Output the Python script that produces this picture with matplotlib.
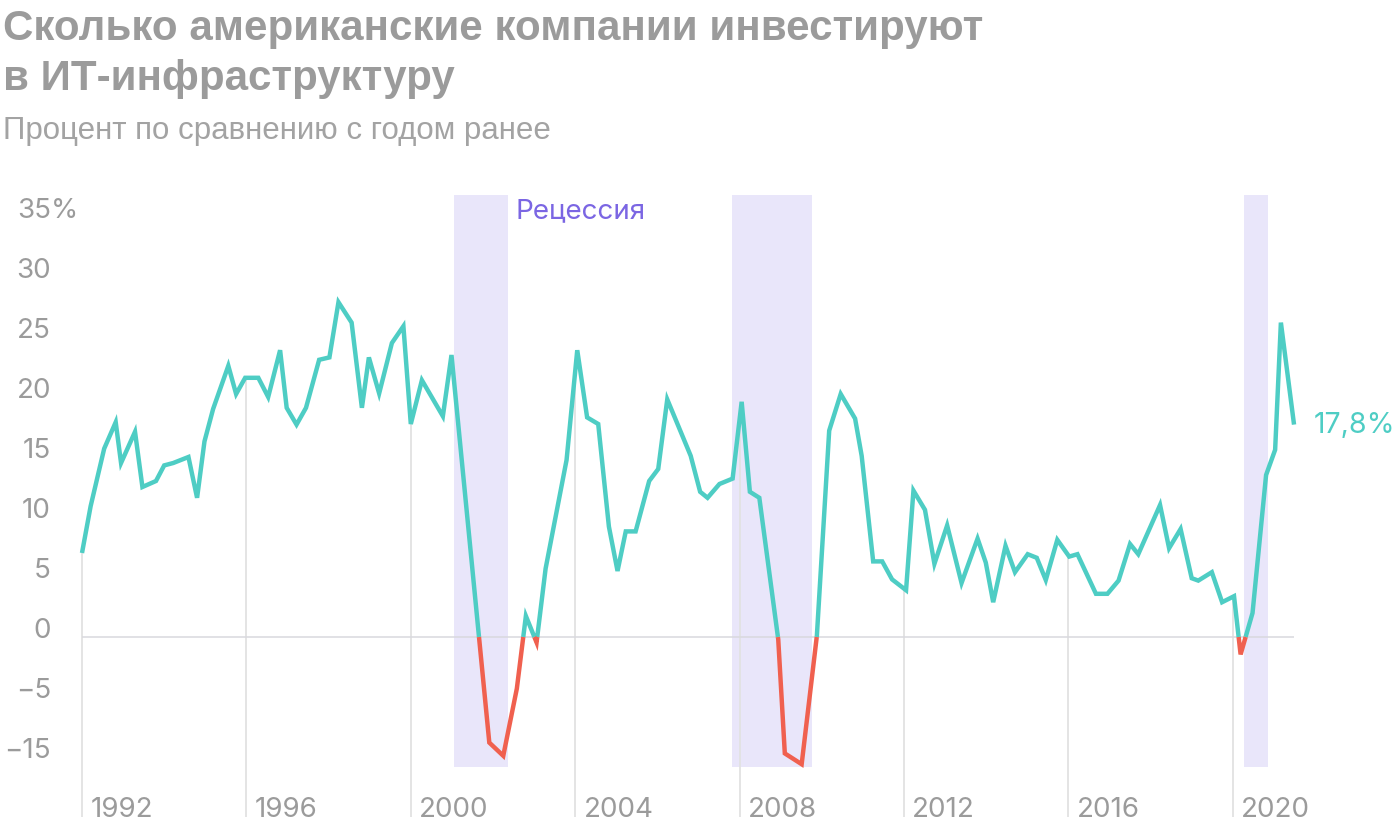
import numpy as np
import matplotlib
matplotlib.use("Agg")
import matplotlib.pyplot as plt
from matplotlib import font_manager

# ---------------- data ----------------
years = [1992.00, 1992.21, 1992.54, 1992.82, 1992.95, 1993.29, 1993.47, 1993.80,
         1994.00, 1994.22, 1994.59, 1994.80, 1994.98, 1995.19, 1995.56, 1995.75,
         1995.97, 1996.29, 1996.53, 1996.82, 1996.98, 1997.22, 1997.45, 1997.77,
         1998.02, 1998.24, 1998.56, 1998.81, 1998.98, 1999.23, 1999.54, 1999.82,
         2000.00, 2000.27, 2000.78, 2000.99, 2001.91, 2002.25, 2002.58, 2002.80,
         2003.06, 2003.28, 2003.79, 2004.05, 2004.29, 2004.56, 2004.82, 2005.03,
         2005.23, 2005.47, 2005.80, 2006.02, 2006.24, 2006.81, 2007.04, 2007.22,
         2007.51, 2007.83, 2008.05, 2008.25, 2008.48, 2008.94, 2009.10, 2009.51,
         2009.88, 2010.18, 2010.46, 2010.81, 2010.97, 2011.25, 2011.47, 2011.71,
         2012.05, 2012.23, 2012.51, 2012.74, 2013.05, 2013.40, 2013.79, 2013.99,
         2014.17, 2014.47, 2014.70, 2015.01, 2015.23, 2015.45, 2015.73, 2016.02,
         2016.22, 2016.67, 2016.95, 2017.22, 2017.50, 2017.70, 2018.23, 2018.45,
         2018.73, 2019.00, 2019.16, 2019.49, 2019.74, 2020.03, 2020.19, 2020.48,
         2020.81, 2021.03, 2021.17, 2021.49]
values = [7.0, 10.9, 15.7, 17.9, 14.5, 17.1, 12.5, 13.0,
          14.3, 14.5, 15.0, 11.6, 16.3, 19.0, 22.6, 20.25,
          21.6, 21.6, 20.0, 23.9, 19.1, 17.7, 19.1, 23.1,
          23.3, 27.9, 26.2, 19.1, 23.3, 20.3, 24.5, 25.9,
          17.75, 21.4, 18.4, 23.5, -8.8, -9.9, -4.3, 1.75,
          -0.45, 5.7, 14.75, 23.9, 18.3, 17.75, 9.2, 5.5,
          8.8, 8.8, 13.0, 14.0, 19.8, 15.1, 12.1, 11.6,
          12.75, 13.2, 19.6, 12.1, 11.6, -0.2, -9.7, -10.6,
          0.1, 17.2, 20.25, 18.2, 15.1, 6.3, 6.3, 4.8,
          3.9, 12.2, 10.6, 6.1, 9.3, 4.5, 8.2, 6.2,
          2.9, 7.6, 5.4, 6.9, 6.6, 4.75, 8.1, 6.7,
          6.9, 3.6, 3.6, 4.7, 7.75, 6.9, 11.0, 7.4,
          9.0, 4.9, 4.7, 5.4, 2.9, 3.4, -1.45, 2.0,
          13.5, 15.6, 26.2, 17.7]

recession_start = [2001.05, 2007.82, 2020.27]
recession_end = [2002.37, 2009.76, 2020.85]

ytick_values = [35, 30, 25, 20, 15, 10, 5, 0, -5, -10]
ytick_labels = ["35%", "30", "25", "20", "15", "10", "5", "0", "\u22125", "\u221215"]
xtick_years = [1992, 1996, 2000, 2004, 2008, 2012, 2016, 2020]
xtick_labels = ["1992", "1996", "2000", "2004", "2008", "2012", "2016", "2020"]

title_lines = ["Сколько американские компании инвестируют", "в ИТ-инфраструктуру"]
subtitle = "Процент по сравнению с годом ранее"
recession_label = "Рецессия"
last_label = "17,8%"

# ---------------- style ----------------
TEAL = "#4ecdc4"
RED = "#f0604f"
BAND = "#e9e6fa"
GRID = "#e2e2e2"
GRAY_TXT = "#9b9b9b"
PURPLE = "#7b66e3"

available = {f.name for f in font_manager.fontManager.ttflist}
head_font = "Liberation Sans" if "Liberation Sans" in available else "DejaVu Sans"
num_font = "Inter" if "Inter" in available else "DejaVu Sans"

W, H = 1400, 828
fig = plt.figure(figsize=(W / 100, H / 100), dpi=100)
ax = fig.add_axes([0, 0, 1, 1])
ax.set_axis_off()

# map: pixel x = 82 + (year-1992)*41.1 ; pixel y = 638 - 12*value
px_per_year = 41.1
px_per_unit = 12.0
ax.set_xlim(1992 - 82 / px_per_year, 1992 + (W - 82) / px_per_year)
ax.set_ylim(638 / px_per_unit - H / px_per_unit, 638 / px_per_unit)

x = np.array(years)
y = np.array(values)

band_bottom = (638 - 768) / px_per_unit
band_top = (638 - 196) / px_per_unit
for s, e in zip(recession_start, recession_end):
    ax.fill_between([s, e], band_bottom, band_top, color=BAND, lw=0, zorder=1)

grid_bottom = (638 - 818) / px_per_unit
ax.vlines(xtick_years, grid_bottom, np.interp(xtick_years, x, y), color=GRID, lw=1.3, zorder=2)
ax.hlines(0, x[0], x[-1], color="#d9d9de", lw=1.3, zorder=2, alpha=0.85)

# split line into positive/negative parts
xs, ys = [], []
for i in range(len(x) - 1):
    xs.append(x[i]); ys.append(y[i])
    if y[i] * y[i + 1] < 0:
        xc = x[i] + (0 - y[i]) * (x[i + 1] - x[i]) / (y[i + 1] - y[i])
        xs.append(xc); ys.append(0.0)
xs.append(x[-1]); ys.append(y[-1])
xs = np.array(xs); ys = np.array(ys)
pos = np.where(ys >= 0, ys, np.nan)
neg = np.where(ys <= 0, ys, np.nan)
ax.plot(xs, pos, color=TEAL, lw=3.2, solid_joinstyle="miter", solid_capstyle="butt", zorder=4)
ax.plot(xs, neg, color=RED, lw=3.2, solid_joinstyle="miter", solid_capstyle="butt", zorder=4)

# y tick labels
for v, lab in zip(ytick_values, ytick_labels):
    if lab.endswith("%"):
        ax.text(1992 - (82 - 17) / px_per_year, v, lab, ha="left", va="baseline",
                fontsize=20, color=GRAY_TXT, family=num_font)
    else:
        ax.text(1992 - (82 - 51) / px_per_year, v, lab, ha="right", va="baseline",
                fontsize=20, color=GRAY_TXT, family=num_font)

# x tick labels
for yr, lab in zip(xtick_years, xtick_labels):
    ax.annotate(lab, (yr, grid_bottom), xytext=(6, 1), textcoords="offset points",
                ha="left", va="baseline", fontsize=20, color=GRAY_TXT, family=num_font)

ax.annotate(recession_label, (recession_end[0], 35), xytext=(5, 0), textcoords="offset points",
            ha="left", va="baseline", fontsize=20, color=PURPLE, family=num_font)
ax.annotate(last_label, (x[-1], y[-1]), xytext=(14, 0), textcoords="offset points",
            ha="left", va="center", fontsize=20.5, color=TEAL, family=num_font)

for i, line in enumerate(title_lines):
    fig.text(3 / W, 1 - (40 + 50 * i) / H, line, ha="left", va="baseline", fontsize=30.3,
             fontweight="bold", color=GRAY_TXT, family=head_font)
fig.text(3 / W, 1 - 139 / H, subtitle, ha="left", va="baseline", fontsize=22.5,
         color="#a3a3a3", family=head_font)

fig.savefig("out.png", dpi=100)
